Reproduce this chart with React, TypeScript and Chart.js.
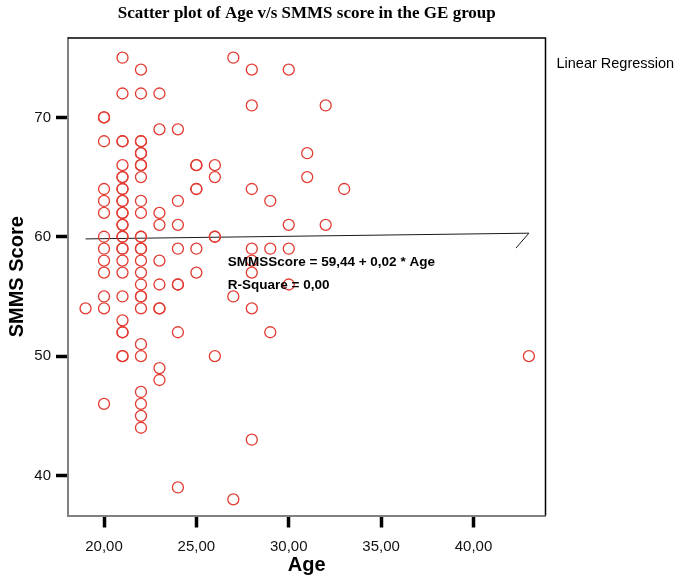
import React, { useEffect, useRef } from "react";
import { Chart, registerables } from "chart.js";

Chart.register(...registerables);

const chartTitle = "Scatter plot of Age v/s SMMS score in the GE group";
const xAxisTitle = "Age";
const yAxisTitle = "SMMS Score";
const legendLabel = "Linear Regression";
const equationText = "SMMSScore = 59,44 + 0,02 * Age";
const rSquareText = "R-Square = 0,00";

// Ages (x) and the SMMS scores observed at each age
const ageGroups = [19, 20, 21, 22, 23, 24, 25, 26, 27, 28, 29, 30, 31, 32, 33, 43];
const scoresByAge = [
  [54],
  [70, 70, 68, 64, 63, 62, 60, 59, 58, 57, 55, 54, 46],
  [75, 72, 68, 68, 66, 65, 65, 64, 64, 63, 63, 62, 62, 61, 61, 60, 60, 59, 59, 58, 57, 55, 53, 52, 52, 50, 50],
  [74, 72, 68, 68, 67, 67, 66, 66, 65, 63, 62, 60, 60, 59, 59, 58, 57, 56, 55, 55, 54, 51, 50, 47, 46, 45, 44],
  [72, 69, 62, 61, 58, 56, 54, 54, 49, 48],
  [69, 63, 61, 59, 56, 56, 52, 39],
  [66, 66, 64, 64, 59, 57],
  [66, 65, 60, 60, 50],
  [75, 55, 38],
  [74, 71, 64, 59, 58, 57, 54, 43],
  [63, 59, 52],
  [74, 61, 59, 56],
  [67, 65],
  [71, 61],
  [64],
  [50],
];

const xTicks = [20, 25, 30, 35, 40];
const yTicks = [40, 50, 60, 70];
const xRange = [18.05, 43.9];
const yRange = [36.65, 76.65];

// Linear regression fit
const fitIntercept = 59.44;
const fitSlope = 0.02;
const fitAges = [19, 43];
const fitTailAges = [42.3];
const fitTailScores = [59.05];

// Annotation anchors in data units
const equationAnchor = { age: 26.7, score: 57.9 };
const rSquareAnchor = { age: 26.7, score: 55.95 };

const SANS = '"Liberation Sans", Arial, Helvetica, sans-serif';
const SERIF = '"Liberation Serif", "Times New Roman", Times, serif';

const decorPlugin = {
  id: "decor",
  afterDraw(chart: any) {
    const ctx = chart.ctx as CanvasRenderingContext2D;
    const { left, right, top, bottom } = chart.chartArea;
    const xs = chart.scales.x;
    const ys = chart.scales.y;
    ctx.save();
    // top & right frame
    ctx.strokeStyle = "#000";
    ctx.lineWidth = 1.5;
    ctx.beginPath();
    ctx.moveTo(left, top);
    ctx.lineTo(right, top);
    ctx.lineTo(right, bottom);
    ctx.stroke();

    ctx.fillStyle = "#000";
    // title
    ctx.font = `bold 17px ${SERIF}`;
    ctx.textAlign = "center";
    ctx.textBaseline = "middle";
    ctx.fillText(chartTitle, (left + right) / 2, 14);

    // x axis title
    ctx.font = `bold 20px ${SANS}`;
    ctx.fillText(xAxisTitle, (left + right) / 2, 565);

    // y axis title
    ctx.save();
    ctx.translate(17, (top + bottom) / 2);
    ctx.rotate(-Math.PI / 2);
    ctx.fillText(yAxisTitle, 0, 0);
    ctx.restore();

    // legend text
    ctx.font = `14.5px ${SANS}`;
    ctx.textAlign = "left";
    ctx.fillText(legendLabel, right + 11, 64);

    // annotations
    ctx.font = `bold 13.5px ${SANS}`;
    ctx.fillText(
      equationText,
      xs.getPixelForValue(equationAnchor.age),
      ys.getPixelForValue(equationAnchor.score)
    );
    ctx.fillText(
      rSquareText,
      xs.getPixelForValue(rSquareAnchor.age),
      ys.getPixelForValue(rSquareAnchor.score)
    );
    ctx.restore();
  },
};

export default function App() {
  const ref = useRef<HTMLCanvasElement | null>(null);

  useEffect(() => {
    if (!ref.current) return;
    const points: { x: number; y: number }[] = [];
    ageGroups.forEach((age, i) => {
      scoresByAge[i].forEach((s) => points.push({ x: age, y: s }));
    });
    const fitLine = fitAges.map((a) => ({ x: a, y: fitIntercept + fitSlope * a }));
    fitTailAges.forEach((a, i) => fitLine.push({ x: a, y: fitTailScores[i] }));

    const chart = new Chart(ref.current, {
      type: "scatter",
      data: {
        datasets: [
          {
            label: "SMMS Score",
            data: points,
            pointStyle: "circle",
            pointRadius: 5.5,
            pointBorderWidth: 1.3,
            borderColor: "#e23b32",
            backgroundColor: "rgba(0,0,0,0)",
            showLine: false,
          },
          {
            type: "line",
            label: legendLabel,
            data: fitLine,
            showLine: true,
            pointRadius: 0,
            borderColor: "#1a1a1a",
            borderWidth: 1,
            fill: false,
            tension: 0,
          } as any,
        ],
      },
      options: {
        animation: false,
        responsive: false,
        devicePixelRatio: 1,
        layout: { padding: { left: 0, top: 38, right: 138.5, bottom: 0 } },
        plugins: {
          legend: { display: false },
          tooltip: { enabled: false },
          title: { display: false },
        },
        scales: {
          x: {
            type: "linear",
            min: xRange[0],
            max: xRange[1],
            afterFit: (s: any) => {
              s.height = 64.5;
            },
            afterBuildTicks: (s: any) => {
              s.ticks = xTicks.map((v) => ({ value: v }));
            },
            grid: {
              drawOnChartArea: false,
              drawTicks: true,
              tickLength: 12,
              tickWidth: 3.5,
              tickColor: "#000",
            },
            border: { display: true, color: "#808080", width: 2 },
            ticks: {
              padding: 10,
              color: "#111",
              font: { family: SANS, size: 15 },
              callback: (v: any) => Number(v).toFixed(2).replace(".", ","),
            },
          },
          y: {
            type: "linear",
            min: yRange[0],
            max: yRange[1],
            afterFit: (s: any) => {
              s.width = 68;
            },
            afterBuildTicks: (s: any) => {
              s.ticks = yTicks.map((v) => ({ value: v }));
            },
            grid: {
              drawOnChartArea: false,
              drawTicks: true,
              tickLength: 12,
              tickWidth: 3.5,
              tickColor: "#000",
            },
            border: { display: true, color: "#808080", width: 2 },
            ticks: {
              padding: 5,
              color: "#111",
              font: { family: SANS, size: 15 },
              callback: (v: any) => String(v),
            },
          },
        },
      },
      plugins: [decorPlugin],
    });
    return () => chart.destroy();
  }, []);

  return (
    <div style={{ position: "fixed", left: 0, top: 0, width: 684, height: 580, background: "#fff" }}>
      <canvas ref={ref} width={684} height={580} style={{ display: "block", width: 684, height: 580 }} />
    </div>
  );
}
